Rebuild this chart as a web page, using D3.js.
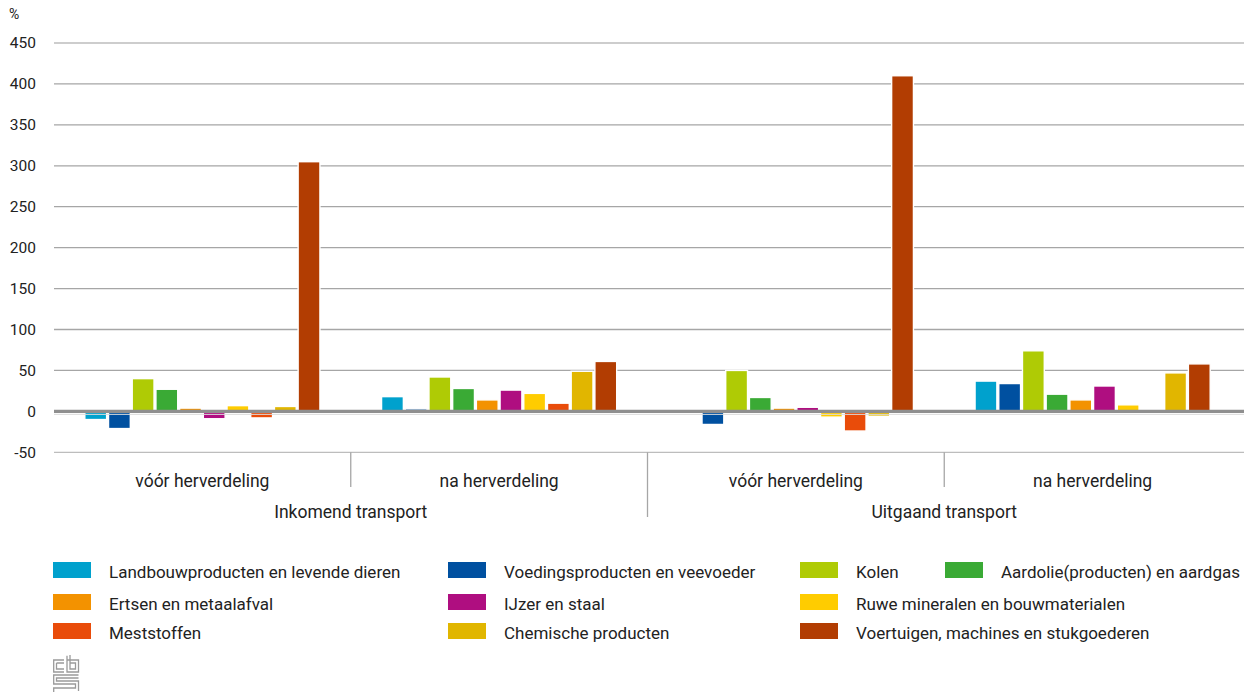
<!DOCTYPE html>
<html><head><meta charset="utf-8">
<script src="https://cdn.jsdelivr.net/npm/d3@7"></script>
<style>
html,body{margin:0;padding:0;background:#fff;}
text{font-family:Roboto,"Noto Sans",sans-serif;fill:#222;}
</style></head>
<body><svg id="c" width="1244" height="692"></svg>
<script>
const groups = ["Inkomend transport|vóór herverdeling","Inkomend transport|na herverdeling","Uitgaand transport|vóór herverdeling","Uitgaand transport|na herverdeling"];
const subLabels = ["vóór herverdeling","na herverdeling","vóór herverdeling","na herverdeling"];
const mainLabels = ["Inkomend transport","Uitgaand transport"];
const series = ["Landbouwproducten en levende dieren","Voedingsproducten en veevoeder","Kolen","Aardolie(producten) en aardgas","Ertsen en metaalafval","IJzer en staal","Ruwe mineralen en bouwmaterialen","Meststoffen","Chemische producten","Voertuigen, machines en stukgoederen"];
const colors = ["#00a1cd","#0050a0","#afcb05","#3aaa35","#f39200","#af0e80","#ffcc00","#e94c0a","#e1b600","#b23d02"];
// values per group, in series order
const inkVoor = [-10,-21,40,27,4,-9,7,-8,6,305];
const inkNa   = [18,3,42,28,14,26,22,10,49,61];
const uitVoor = [0,-16,50,17,4,5,-7,-24,-6,410];
const uitNa   = [37,34,74,21,14,31,8,0,47,58];
const values = [inkVoor,inkNa,uitVoor,uitNa];
const yTicks = [-50,0,50,100,150,200,250,300,350,400,450];

const svg = d3.select("#c");
const L=54, R=1241, GR=1244;
const y = d3.scaleLinear().domain([-50,450]).range([452.3,43]);
const x0 = d3.scaleBand().domain(groups).range([L,R]);
const x1 = d3.scaleBand().domain(series).range([0,x0.bandwidth()]).paddingInner(0.08).paddingOuter(1.3);

// gridlines
svg.append("g").selectAll("line").data(yTicks.filter(d=>d!==0)).join("line")
  .attr("x1",L).attr("x2",GR).attr("y1",d=>y(d)).attr("y2",d=>y(d))
  .attr("stroke",d=>(d===450||d===-50)?"#bdbdbd":"#a6a6a6").attr("stroke-width",1.3);

// tick labels
svg.append("g").selectAll("text").data(yTicks).join("text")
  .attr("x",36).attr("y",d=>y(d)).attr("dy","0.35em").attr("text-anchor","end")
  .style("font-size","15.5px").text(d=>d);
svg.append("text").attr("x",9).attr("y",19).style("font-size","14px").text("%");

// bars
const gb = svg.append("g").selectAll("g").data(groups).join("g")
  .attr("transform",d=>`translate(${x0(d)},0)`);
gb.selectAll("rect").data((g,i)=>values[i].map((v,j)=>({s:series[j],v:v,c:colors[j]}))).join("rect")
  .filter(d=>d.v!==0)
  .attr("x",d=>x1(d.s)).attr("width",x1.bandwidth())
  .attr("y",d=>y(Math.max(0,d.v))).attr("height",d=>Math.abs(y(d.v)-y(0)))
  .attr("fill",d=>d.c).attr("stroke","#fff").attr("stroke-width",1.4);

// zero line
svg.append("line").attr("x1",L).attr("x2",GR).attr("y1",y(0)).attr("y2",y(0))
  .attr("stroke","#8f8f8f").attr("stroke-width",3.2);
svg.append("line").attr("x1",L).attr("x2",GR).attr("y1",y(0)+3).attr("y2",y(0)+3)
  .attr("stroke","#dcdcdc").attr("stroke-width",1);

// category axis
const gx = svg.append("g");
groups.forEach((g,i)=>{
  gx.append("text").attr("x",x0(g)+x0.bandwidth()/2).attr("y",487).attr("text-anchor","middle")
    .style("font-size","17.5px").text(subLabels[i]);
  if(i>0){
    gx.append("line").attr("x1",x0(g)).attr("x2",x0(g)).attr("y1",y(-50)).attr("y2",i===2?517:487)
      .attr("stroke","#a6a6a6").attr("stroke-width",1.3);
  }
});
mainLabels.forEach((m,k)=>{
  const cx = x0(groups[2*k+1]);
  gx.append("text").attr("x",cx).attr("y",518).attr("text-anchor","middle")
    .style("font-size","17.5px").text(m);
});

// legend
const colX = [53,448,800,945];
const rowY = [570,602,631];
const layout = [[0,0],[0,1],[0,2],[0,3],[1,0],[1,1],[1,2],[2,0],[2,1],[2,2]];
const lg = svg.append("g");
series.forEach((s,i)=>{
  const [r,c]=layout[i];
  lg.append("rect").attr("x",colX[c]).attr("y",rowY[r]-8).attr("width",38).attr("height",16).attr("fill",colors[i]);
  lg.append("text").attr("x",colX[c]+56).attr("y",rowY[r]+2).attr("dy","0.35em")
    .style("font-size","17px").text(s);
});

// cbs logo
const lo = svg.append("g").attr("transform","translate(53,655)").attr("fill","none").attr("stroke","#9a9a9a").attr("stroke-width",1.3);
lo.append("path").attr("d","M11,5 H0.7 V17 H11 M3.5,8 H11 M3.5,8 V14 H11");
lo.append("path").attr("d","M14,0.7 V17 H25.5 V5 H14 M17,0 V14 H22.5 V8 H17");
lo.append("path").attr("d","M25.5,20 H0.7 V29 H22.5 V33 H0.7 V37 M25.5,23 H3.5 V26 H25.5 V36");
</script></body></html>
